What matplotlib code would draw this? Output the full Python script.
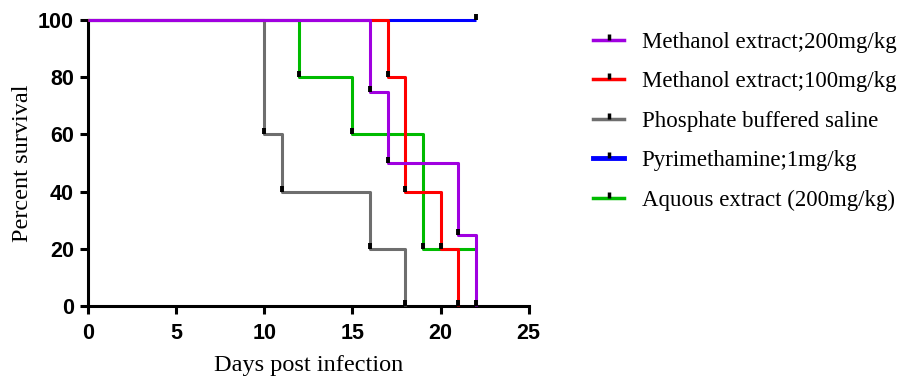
import matplotlib
matplotlib.use("Agg")
import matplotlib.pyplot as plt
from matplotlib.lines import Line2D
from matplotlib.path import Path

# Data (Kaplan-Meier style step data)
labels = ["Methanol extract;200mg/kg", "Methanol extract;100mg/kg",
          "Phosphate buffered saline", "Pyrimethamine;1mg/kg",
          "Aquous extract (200mg/kg)"]
colors = ["#A000E0", "#FF0000", "#6E6E6E", "#0000FF", "#00BB00"]

meth200_days = [0, 16, 17, 21, 22]
meth200_surv = [100, 75, 50, 25, 0]
meth100_days = [0, 17, 18, 20, 21]
meth100_surv = [100, 80, 40, 20, 0]
pbs_days = [0, 10, 11, 16, 18]
pbs_surv = [100, 60, 40, 20, 0]
pyr_days = [0, 22]
pyr_surv = [100, 100]
aq_days = [0, 12, 15, 19, 22]
aq_surv = [100, 80, 60, 20, 20]

series = [
    (meth200_days, meth200_surv),
    (meth100_days, meth100_surv),
    (pbs_days, pbs_surv),
    (pyr_days, pyr_surv),
    (aq_days, aq_surv),
]
# event/censor tick marks drawn at these points
tick_idx = [
    [1, 2, 3, 4],
    [1, 2, 3, 4],
    [1, 2, 3, 4],
    [1],
    [1, 2, 3],
]

tick_marker = Path([(0, 0), (0, 1)], [Path.MOVETO, Path.LINETO])

fig = plt.figure(figsize=(9.21, 3.77), dpi=100)
ax = fig.add_axes([0.0955, 0.188, 0.4785, 0.759])

draw_order = [3, 4, 2, 1, 0]
for i in draw_order:
    d, s = series[i]
    ax.step(d, s, where="post", color=colors[i], lw=2.2, zorder=2 + draw_order.index(i),
            solid_capstyle="butt", clip_on=False)
for i in draw_order:
    d, s = series[i]
    xs = [d[k] for k in tick_idx[i]]
    ys = [s[k] for k in tick_idx[i]]
    ax.plot(xs, ys, linestyle="none", marker=tick_marker, markersize=9,
            markeredgewidth=2.8, markeredgecolor="black", zorder=10, clip_on=False)

ax.set_xlim(0, 25)
ax.set_ylim(0, 100)
ax.set_xticks([0, 5, 10, 15, 20, 25])
ax.set_yticks([0, 20, 40, 60, 80, 100])
for side in ["top", "right"]:
    ax.spines[side].set_visible(False)
for side in ["left", "bottom"]:
    ax.spines[side].set_linewidth(2.2)
ax.tick_params(direction="out", length=6, width=2.2, labelsize=15.5, pad=4)
ax.tick_params(axis="x", pad=6)
for lab in ax.get_xticklabels() + ax.get_yticklabels():
    lab.set_fontfamily("Liberation Sans")
    lab.set_fontweight("bold")
ax.set_xlabel("Days post infection", fontfamily="Liberation Serif", fontsize=17.5, labelpad=8)
ax.set_ylabel("Percent survival", fontfamily="Liberation Serif", fontsize=17.5, labelpad=4)

handles = []
for i in range(5):
    handles.append(Line2D([0], [0], color=colors[i], lw=2.5 if i != 3 else 3.5,
                          marker=tick_marker, markersize=8, markeredgewidth=2.5,
                          markeredgecolor="black"))
fig.legend(handles, labels, loc="upper left", bbox_to_anchor=(0.622, 0.97),
           frameon=False, prop={"family": "Liberation Serif", "size": 16.5},
           labelspacing=0.8, handlelength=1.35, handletextpad=0.75, numpoints=1)

fig.savefig("out.png", dpi=100)
